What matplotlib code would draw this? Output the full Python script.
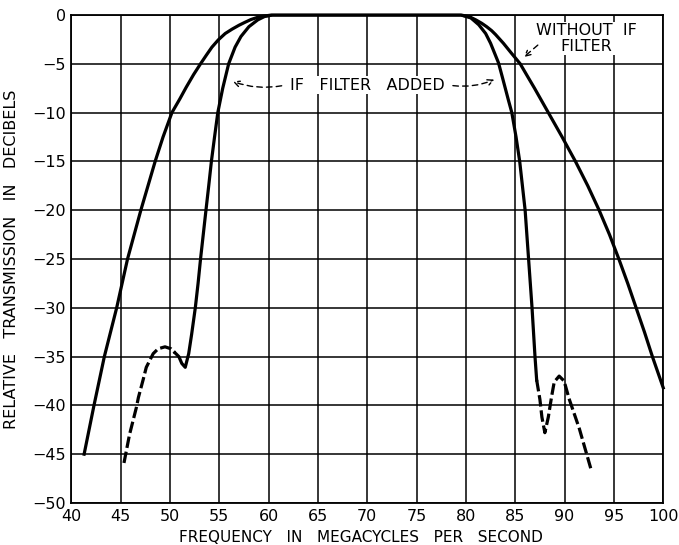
import numpy as np
import matplotlib.pyplot as plt

# response without the IF filter (MHz, dB)
f_plain = [41.3, 42.3, 43.35, 44.6, 45.7, 47.05, 48.5, 49.3, 50.2, 51.0, 51.65,
           52.4, 53.1, 53.7, 54.25, 54.9, 55.6, 56.3, 57.0, 57.6, 58.2, 59.0,
           60.3, 65.0, 70.0, 75.0, 79.5, 80.4, 81.0, 81.6, 82.1, 82.6, 83.0,
           83.8, 84.6, 85.5, 86.25, 86.95, 87.65, 88.35, 89.05, 89.75, 90.45, 91.1,
           92.35, 93.5, 94.55, 95.5, 96.4, 97.25, 98.1, 98.9, 100.0]
db_plain = [-45.0, -40.0, -35.0, -30.0, -25.0, -20.0, -15.0, -12.5, -10.0, -8.6, -7.4,
            -6.1, -5.0, -4.1, -3.3, -2.55, -1.9, -1.45, -1.05, -0.75, -0.47, -0.2,
            0.0, 0.0, 0.0, 0.0, 0.0, -0.2, -0.5, -0.85, -1.2, -1.6, -2.0,
            -2.9, -3.9, -5.0, -6.3, -7.5, -8.75, -10.0, -11.25, -12.5, -13.8, -15.0,
            -17.5, -20.0, -22.5, -25.0, -27.5, -30.0, -32.5, -35.0, -38.2]

# response with the IF filter: measured part
f_filt = [50.5, 50.9, 51.2, 51.55, 51.9, 52.2, 52.57, 52.85, 53.1, 53.65, 53.93,
          54.2, 54.52, 54.85, 55.35, 55.95, 56.6, 57.2, 58.0, 58.9,
          59.6, 60.4, 65.0, 70.0, 75.0, 79.5, 80.5, 81.3, 82.0, 82.5, 82.9,
          83.3, 83.7, 84.3, 84.65, 85.08, 85.45, 86.0, 86.35, 86.7, 87.0, 87.17]
db_filt = [-34.6, -35.0, -35.7, -36.1, -34.7, -32.7, -30.0, -27.5, -25.0, -20.0, -17.5,
           -15.0, -12.5, -10.0, -7.5, -5.0, -3.3, -2.2, -1.2, -0.5,
           -0.15, 0.0, 0.0, 0.0, 0.0, 0.0, -0.3, -1.0, -1.9, -2.9, -3.9,
           -4.9, -6.4, -8.7, -10.0, -12.5, -15.0, -20.0, -25.0, -30.0, -35.0, -37.4]

# with the IF filter: extrapolated tails (dashed)
f_tail_lo = [45.34, 45.9, 46.6, 46.8, 47.3, 47.6, 48.0, 48.3, 48.8, 49.5, 50.1, 50.5]
db_tail_lo = [-45.9, -43.0, -40.2, -39.2, -37.3, -36.1, -35.3, -34.7, -34.2, -34.0, -34.2, -34.6]
f_tail_hi = [87.17, 87.5, 87.7, 88.0, 88.35, 88.7, 88.95, 89.45, 89.95, 90.45, 91.5, 92.75]
db_tail_hi = [-37.4, -39.4, -41.2, -42.8, -41.2, -39.0, -37.6, -37.0, -37.5, -39.3, -42.4, -46.8]

xticks = np.arange(40, 101, 5)
yticks = np.arange(-50, 1, 5)

plt.rcParams['font.family'] = 'DejaVu Sans'
fig = plt.figure(figsize=(6.79, 5.45), dpi=100)
ax = fig.add_axes([0.105, 0.0771, 0.8718, 0.8954])

ax.set_xlim(40, 100)
ax.set_ylim(-50, 0)
ax.set_xticks(xticks)
ax.set_yticks(yticks)
ax.grid(True, color='black', linewidth=1.1)
ax.set_axisbelow(True)
for s in ax.spines.values():
    s.set_linewidth(1.3)
    s.set_color('black')
ax.tick_params(length=0, labelsize=11.5, pad=4)

lw = 2.3
ax.plot(f_plain, db_plain, color='black', lw=lw, solid_joinstyle='round', clip_on=False)
ax.plot(f_filt, db_filt, color='black', lw=lw, solid_joinstyle='round')
ax.plot(f_tail_lo, db_tail_lo, color='black', lw=lw, dashes=(3.6, 1.2))
ax.plot(f_tail_hi, db_tail_hi, color='black', lw=lw, dashes=(3.6, 1.2))

ax.set_xlabel('FREQUENCY   IN   MEGACYCLES   PER   SECOND', fontsize=11, labelpad=3)
ax.set_ylabel('RELATIVE   TRANSMISSION   IN   DECIBELS', fontsize=11.5, labelpad=4)
ax.yaxis.set_label_coords(-0.088, 0.5)
ax.xaxis.set_label_coords(0.49, -0.055)

# labels with dashed pointers
ax.text(70, -7.2, 'IF   FILTER   ADDED', ha='center', va='center', fontsize=11.5,
        bbox=dict(facecolor='white', edgecolor='none', pad=1))
arrow = dict(arrowstyle='->', color='black', lw=1.0, linestyle=(0, (4, 3)))
ax.annotate('', xy=(56.1, -6.7), xytext=(61.6, -7.2),
            arrowprops=dict(arrow, connectionstyle='arc3,rad=-0.15'))
ax.annotate('', xy=(83.15, -6.5), xytext=(78.4, -7.2),
            arrowprops=dict(arrow, connectionstyle='arc3,rad=0.15'))

ax.text(92.2, -2.4, 'WITHOUT  IF\nFILTER', ha='center', va='center', fontsize=11.5,
        linespacing=1.05, bbox=dict(facecolor='white', edgecolor='none', pad=1))
ax.annotate('', xy=(85.65, -4.5), xytext=(87.5, -2.9), arrowprops=arrow)

fig.savefig('out.png', dpi=100)
